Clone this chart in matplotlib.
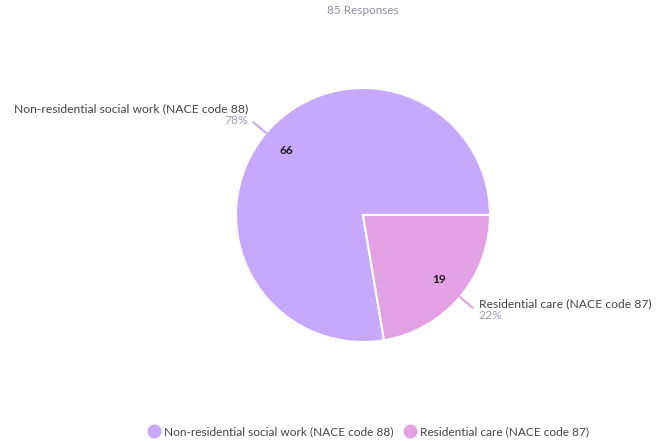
import numpy as np
import matplotlib
matplotlib.use("Agg")
import matplotlib.pyplot as plt
from matplotlib.lines import Line2D

# data
categories = ["Non-residential social work (NACE code 88)", "Residential care (NACE code 87)"]
counts = [66, 19]
colors = ["#c6a8fd", "#e2a1e2"]
total = sum(counts)

plt.rcParams['font.family'] = ['Lato', 'DejaVu Sans']

fig = plt.figure(figsize=(6.64, 4.41), dpi=100)
ax = fig.add_axes([0, 0, 1, 1])

cx, cy, r = 363, 226, 127
wedges, texts, autotexts = ax.pie(
    counts, colors=colors, startangle=0, counterclock=True,
    center=(cx, cy), radius=r, frame=True,
    autopct=lambda p: "%d" % round(p * total / 100.0),
    pctdistance=0.79,
    wedgeprops=dict(edgecolor="white", linewidth=1.5),
    textprops=dict(fontsize=8.5, color="#1a1a1a", fontweight="bold"))

ax.set_xlim(0, 664)
ax.set_ylim(0, 441)
ax.set_aspect("equal")
ax.axis("off")

# outside labels with leader lines
for w, name, c in zip(wedges, categories, counts):
    ang = np.deg2rad((w.theta1 + w.theta2) / 2.0)
    x0, y0 = cx + r * np.cos(ang), cy + r * np.sin(ang)
    x1, y1 = cx + r * 1.13 * np.cos(ang), cy + r * 1.13 * np.sin(ang)
    ax.plot([x0, x1], [y0, y1], color=w.get_facecolor(), lw=1.5)
    pct = "%d%%" % round(100.0 * c / total)
    if np.cos(ang) < 0:
        ax.text(x1 - 5, y1 + 14, name, ha="right", va="center", fontsize=8.7, color="#444444")
        ax.text(x1 - 5, y1 + 2, pct, ha="right", va="center", fontsize=8.7, color="#9a9ab5")
    else:
        ax.text(x1 + 6, y1 + 4, name, ha="left", va="center", fontsize=8.7, color="#444444")
        ax.text(x1 + 6, y1 - 8, pct, ha="left", va="center", fontsize=8.7, color="#9a9ab5")

fig.text(363 / 664, 1 - 11 / 441, "%d Responses" % total, ha="center", va="center",
         fontsize=8.5, color="#8e8ea8")

handles = [Line2D([], [], marker="o", ls="", markersize=9, markerfacecolor=c, markeredgecolor=c)
           for c in colors]
fig.legend(handles, categories, loc="center", bbox_to_anchor=(368 / 664, 1 - 432 / 441),
           ncol=2, frameon=False, fontsize=8.6, handletextpad=0.2, columnspacing=0.8,
           handlelength=1.2, labelcolor="#444444")

fig.savefig("out.png", dpi=100)
